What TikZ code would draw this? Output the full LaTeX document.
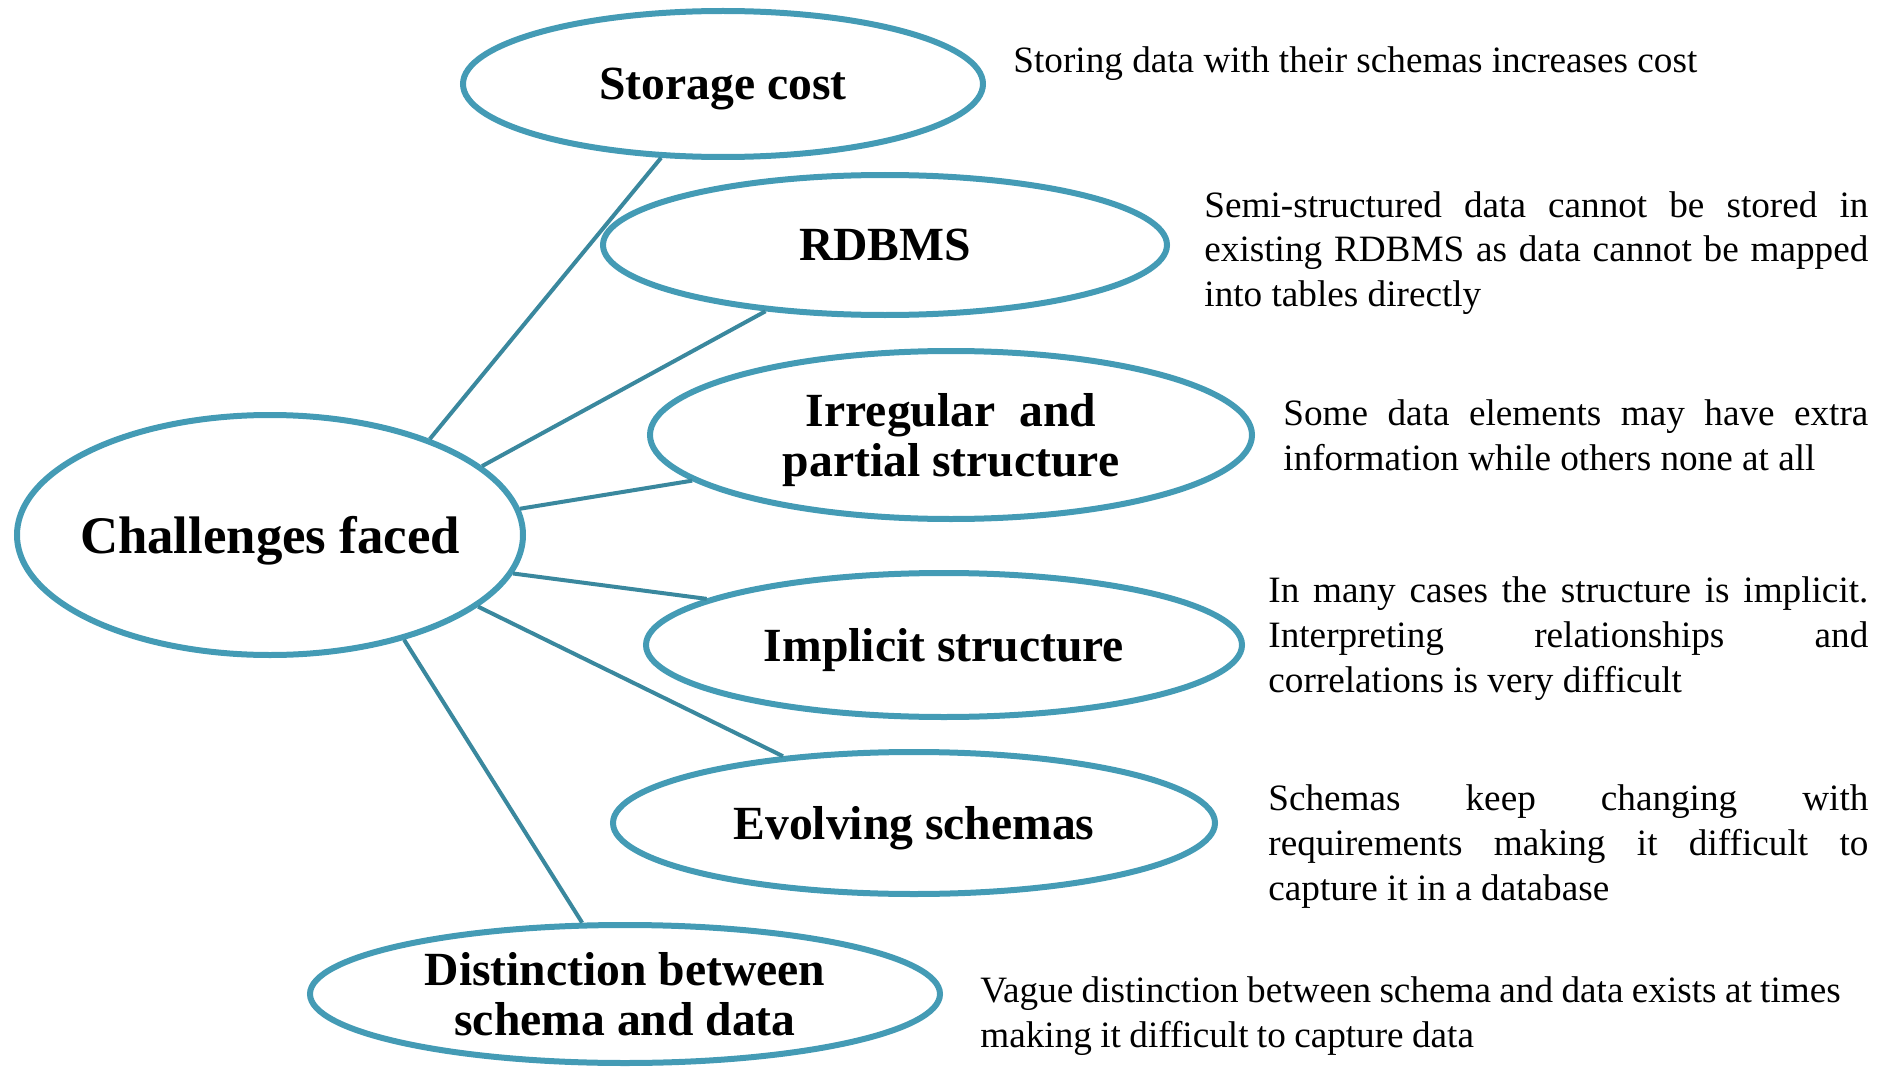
\documentclass[tikz,border=0pt]{standalone}
\usepackage{fontspec}
\setmainfont{Liberation Serif}
\usetikzlibrary{shapes.geometric}
\definecolor{rim}{RGB}{68,155,181}
\definecolor{spoke}{RGB}{58,136,158}
\hbadness=10000
\begin{document}
\begin{tikzpicture}[x=0.5pt,y=-0.5pt,
  topic/.style={ellipse, draw=rim, line width=3pt, inner sep=0pt, align=center,
    font=\fontsize{23.8}{25}\selectfont\bfseries},
  flat/.style={text depth=0pt},
  hub/.style={topic, flat, inner xsep=-8pt, font=\fontsize{26.4}{28}\selectfont\bfseries},
  spokeline/.style={draw=spoke, line width=2pt},
  note/.style={anchor=base west, inner sep=0pt, font=\fontsize{18.6}{22.5}\selectfont},
  ]
\useasboundingbox (0,0) rectangle (1886,1070);

% central topic
\node[hub, minimum width=253pt, minimum height=120pt] (ch) at (270,535) {Challenges faced};

% challenge topics
\node[topic, flat, minimum width=260pt, minimum height=73pt] (st) at (723,84) {Storage cost};
\node[topic, flat, minimum width=282pt, minimum height=70pt] (rd) at (885,245) {RDBMS};
\node[topic, flat, minimum width=301pt, minimum height=84pt] (ir) at (951,435) {Irregular\ \ and\\partial structure};
\node[topic, flat, minimum width=298pt, minimum height=72pt] (im) at (944,645) {Implicit structure};
\node[topic, flat, minimum width=301pt, minimum height=71pt] (ev) at (914,823) {Evolving schemas};
\node[topic, minimum width=315pt, minimum height=69pt] (di) at (625,994) {Distinction between\\schema and data};

% spokes
\draw[spokeline] (ch.31) -- (st.230);
\draw[spokeline] (ch.18.4) -- (rd.209);
\draw[spokeline] (ch.6.3) -- (ir.190);
\draw[spokeline] (ch.351.8) -- (im.169.5);
\draw[spokeline] (ch.341) -- (ev.153.4);
\draw[spokeline] (ch.322.2) -- (di.121.2);

% explanations
\node[note] (stn) at (1013,73) {Storing data with their schemas increases cost};
\node[note, text width=332pt, align=justify] (rdn) at (1204,217)
  {Semi-structured data cannot be stored in\linebreak existing RDBMS as data cannot be mapped\linebreak into tables directly};
\node[note, text width=292.5pt, align=justify] (irn) at (1283,425)
  {Some data elements may have extra\linebreak information while others none at all};
\node[note, text width=300pt, align=justify] (imn) at (1268,602)
  {In many cases the structure is implicit.\linebreak Interpreting relationships and\linebreak correlations is very difficult};
\node[note, text width=300pt, align=justify] (evn) at (1268,810)
  {Schemas keep changing with\linebreak requirements making it difficult to\linebreak capture it in a database};
\node[note, text width=450pt, align=left] (din) at (980,1002)
  {\spaceskip=0.225em
   Vague distinction between schema and data exists at times\\making it difficult to capture data};
\end{tikzpicture}
\end{document}
